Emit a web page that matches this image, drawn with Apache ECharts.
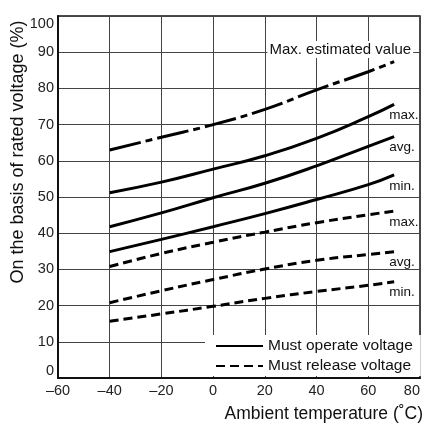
<!DOCTYPE html>
<html>
<head>
<meta charset="utf-8">
<script src="https://cdn.jsdelivr.net/npm/echarts@6/dist/echarts.min.js"></script>
<style>html,body{margin:0;padding:0;background:#fff}#c{width:425px;height:426px}</style>
</head>
<body>
<div id="c"></div>
<script>
var temps = [-40, -20, 0, 20, 40, 60, 70];
var maxEstimated = [63, 66.5, 70, 74.2, 79.6, 84.6, 87.4];
var operateMax = [51.2, 54.1, 57.7, 61.4, 66.2, 72.2, 75.6];
var operateAvg = [41.8, 45.6, 49.8, 53.8, 58.6, 64.0, 66.7];
var operateMin = [34.9, 38.3, 41.8, 45.4, 49.3, 53.4, 56.1];
var releaseMax = [30.8, 34.4, 37.5, 40.3, 42.9, 45.1, 46.1];
var releaseAvg = [20.8, 24.1, 27.2, 30.1, 32.5, 34.1, 34.9];
var releaseMin = [15.7, 17.7, 19.8, 22.0, 23.9, 25.6, 26.6];
var legendNames = ['Must operate voltage', 'Must release voltage'];
var xAxisTitle = 'Ambient temperature (\u02DAC)';
var yAxisTitle = 'On the basis of rated voltage (%)';

var FONT = '"Liberation Sans", Arial, Helvetica, sans-serif';
function pairs(vals){ return temps.map(function(t,i){ return [t, vals[i]]; }); }
function mk(name, vals, type, lbl, lblStyle){
  return {
    name: name, type: 'line', data: pairs(vals), smooth: 0.5, symbol: 'none',
    lineStyle: {color: '#000', width: 3, type: type, cap: 'butt'},
    itemStyle: {color: '#000'},
    emphasis: {disabled: true},
    endLabel: Object.assign({show: true, formatter: lbl, fontFamily: FONT, fontSize: 13.5, color: '#111', offset: [-13, 11]}, lblStyle || {})
  };
}
var chart = echarts.init(document.getElementById('c'), null, {renderer: 'canvas'});
chart.setOption({
  animation: false,
  backgroundColor: '#fff',
  grid: {left: 58, right: 5, top: 16, bottom: 48, show: true, borderColor: '#111', borderWidth: 1.5},
  xAxis: {
    type: 'value', min: -60, max: 80, interval: 20,
    axisLine: {show: true, onZero: false, lineStyle: {color: '#111', width: 2}},
    axisTick: {show: false},
    splitLine: {show: true, lineStyle: {color: '#444', width: 1}},
    axisLabel: {fontFamily: FONT, fontSize: 14.5, color: '#222', margin: 5, alignMaxLabel: 'right',
      formatter: function(v){ return String(v).replace('-', '\u2013'); }}
  },
  yAxis: {
    type: 'value', min: 0, max: 100, interval: 10,
    axisLine: {show: true, onZero: false, lineStyle: {color: '#111', width: 2}},
    axisTick: {show: false},
    splitLine: {show: true, lineStyle: {color: '#444', width: 1}},
    axisLabel: {fontFamily: FONT, fontSize: 14.5, color: '#222', margin: 4,
      verticalAlignMaxLabel: 'top', verticalAlignMinLabel: 'bottom'}
  },
  legend: {
    data: legendNames, orient: 'vertical', left: 205, top: 335,
    backgroundColor: '#fff', padding: [3, 8, 2, 10], itemGap: 4,
    itemWidth: 47, itemHeight: 14, selectedMode: false,
    itemStyle: {opacity: 0},
    textStyle: {fontFamily: FONT, fontSize: 15.5, color: '#111', lineHeight: 14}
  },
  series: [
    mk('Max. estimated value', maxEstimated, [32, 5, 7, 5], 'Max. estimated value',
      {fontSize: 15, align: 'right', offset: [11, -12], backgroundColor: '#fff', padding: [1, 2]}),
    mk(legendNames[0], operateMax, 'solid', 'max.'),
    mk(legendNames[0], operateAvg, 'solid', 'avg.'),
    mk(legendNames[0], operateMin, 'solid', 'min.'),
    mk(legendNames[1], releaseMax, [9, 5], 'max.'),
    mk(legendNames[1], releaseAvg, [9, 5], 'avg.'),
    mk(legendNames[1], releaseMin, [9, 5], 'min.')
  ],
  graphic: [
    {type: 'text', right: 2, bottom: 3, style: {text: xAxisTitle, font: '17.5px ' + FONT, fill: '#111'}},
    {type: 'text', x: 18, y: 152, rotation: Math.PI / 2,
      style: {text: yAxisTitle, font: '18px ' + FONT, fill: '#111', align: 'center', verticalAlign: 'middle'}}
  ]
});
</script>
</body>
</html>
